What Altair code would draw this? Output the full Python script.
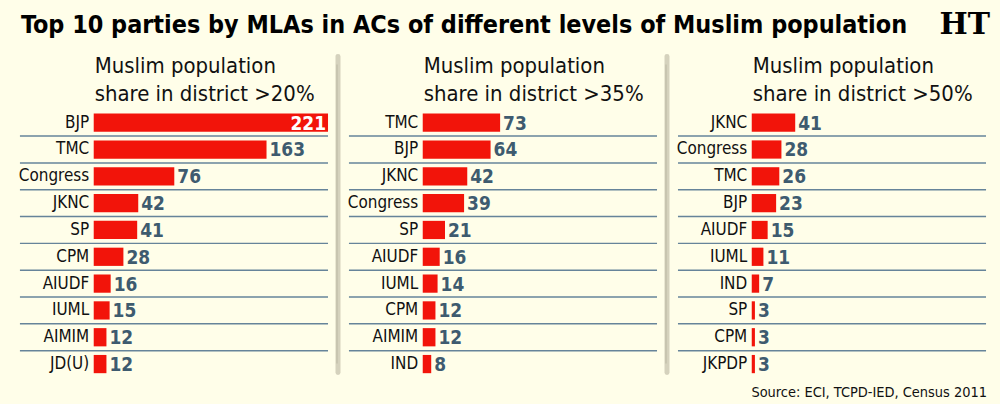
import altair as alt
import pandas as pd

# ---------------- data ----------------
title_text = "Top 10 parties by MLAs in ACs of different levels of Muslim population"
logo_text = "HT"
source_text = "Source: ECI, TCPD-IED, Census 2011"

headers = [
    ["Muslim population", "share in district >20%"],
    ["Muslim population", "share in district >35%"],
    ["Muslim population", "share in district >50%"],
]

parties_20 = ["BJP", "TMC", "Congress", "JKNC", "SP", "CPM", "AIUDF", "IUML", "AIMIM", "JD(U)"]
values_20 = [221, 163, 76, 42, 41, 28, 16, 15, 12, 12]

parties_35 = ["TMC", "BJP", "JKNC", "Congress", "SP", "AIUDF", "IUML", "CPM", "AIMIM", "IND"]
values_35 = [73, 64, 42, 39, 21, 16, 14, 12, 12, 8]

parties_50 = ["JKNC", "Congress", "TMC", "BJP", "AIUDF", "IUML", "IND", "SP", "CPM", "JKPDP"]
values_50 = [41, 28, 26, 23, 15, 11, 7, 3, 3, 3]

# ---------------- style ----------------
BG = "#FFFEE9"
RED = "#F2140A"
VAL = "#3E5B6F"
SEP = "#66849A"
DIV = "#D5D2BD"
FONT = "DejaVu Sans Condensed"

W = 235
H = 269
XMAX = 221


def one():
    return pd.DataFrame({"k": [0]})


def panel(parties, values, header, idx):
    df = pd.DataFrame({"party": parties, "value": values, "rank": list(range(len(parties)))})
    base = alt.Chart(df)
    yenc = alt.Y(
        "party:N",
        sort=parties,
        scale=alt.Scale(paddingInner=0, paddingOuter=0),
        axis=alt.Axis(
            title=None, domain=False, ticks=False, grid=False,
            labelFont=FONT, labelFontSize=17, labelColor="#111111",
            labelPadding=5,
        ),
    )
    xenc = alt.X("value:Q", scale=alt.Scale(domain=[0, XMAX], nice=False, zero=True), axis=None)

    seps = base.transform_filter(alt.datum.rank < len(parties) - 1).mark_rule(
        color=SEP, strokeWidth=1.5
    ).encode(
        y=alt.Y("party:N", sort=parties, bandPosition=1),
        x=alt.value(-74), x2=alt.value(W),
    )
    bars = base.mark_bar(color=RED, height={"band": 0.68}).encode(x=xenc, y=yenc)
    lab_out = base.transform_filter(alt.datum.value < 200).mark_text(
        align="left", baseline="middle", dx=3, dy=1, font=FONT, fontSize=19,
        fontWeight="bold", color=VAL,
    ).encode(x=xenc, y=yenc, text="value:Q")
    lab_in = base.transform_filter(alt.datum.value >= 200).mark_text(
        align="right", baseline="middle", dx=-2, dy=1, font=FONT, fontSize=19,
        fontWeight="bold", color="white",
    ).encode(x=xenc, y=yenc, text="value:Q")

    h1 = alt.Chart(one()).mark_text(
        align="left", baseline="alphabetic", font=FONT, fontSize=22, color="#111111",
        text=header[0],
    ).encode(x=alt.value(1), y=alt.value(-36.5))
    h2 = alt.Chart(one()).mark_text(
        align="left", baseline="alphabetic", font=FONT, fontSize=22, color="#111111",
        text=header[1],
    ).encode(x=alt.value(1), y=alt.value(-8.5))

    layers = [seps, bars, lab_out, lab_in, h1, h2]

    if idx < 2:
        div = alt.Chart(one()).mark_rule(color=DIV, strokeWidth=5, strokeCap="round").encode(
            x=alt.value(W + 10), y=alt.value(-53), y2=alt.value(264)
        )
        div2 = alt.Chart(one()).mark_rule(color="#C4C1AC", strokeWidth=1.5).encode(
            x=alt.value(W + 9), y=alt.value(-45), y2=alt.value(255)
        )
        layers += [div, div2]

    if idx == 0:
        t = alt.Chart(one()).mark_text(
            align="left", baseline="alphabetic", font=FONT, fontSize=25,
            fontWeight="bold", color="#000000", text=title_text,
        ).encode(x=alt.value(-73), y=alt.value(-76.5))
        layers.append(t)
    if idx == 2:
        logo = alt.Chart(one()).mark_text(
            align="right", baseline="alphabetic", font="DejaVu Serif", fontSize=30,
            fontWeight="bold", color="#000000", text=logo_text,
        ).encode(x=alt.value(239), y=alt.value(-75.5))
        src = alt.Chart(one()).mark_text(
            align="right", baseline="alphabetic", font=FONT, fontSize=14.5,
            color="#111111", text=source_text,
        ).encode(x=alt.value(236), y=alt.value(288.5))
        layers += [logo, src]

    return alt.layer(*layers).properties(width=W, height=H)


p1 = panel(parties_20, values_20, headers[0], 0)
p2 = panel(parties_35, values_35, headers[1], 1)
p3 = panel(parties_50, values_50, headers[2], 2)

chart = alt.hconcat(p1, p2, p3, spacing=95, bounds="flush").properties(
    padding={"left": 18, "top": 9, "right": 10, "bottom": 4},
    background=BG,
).configure_view(stroke=None)

chart.save("out.html", embed_options={"renderer": "svg", "actions": False})
